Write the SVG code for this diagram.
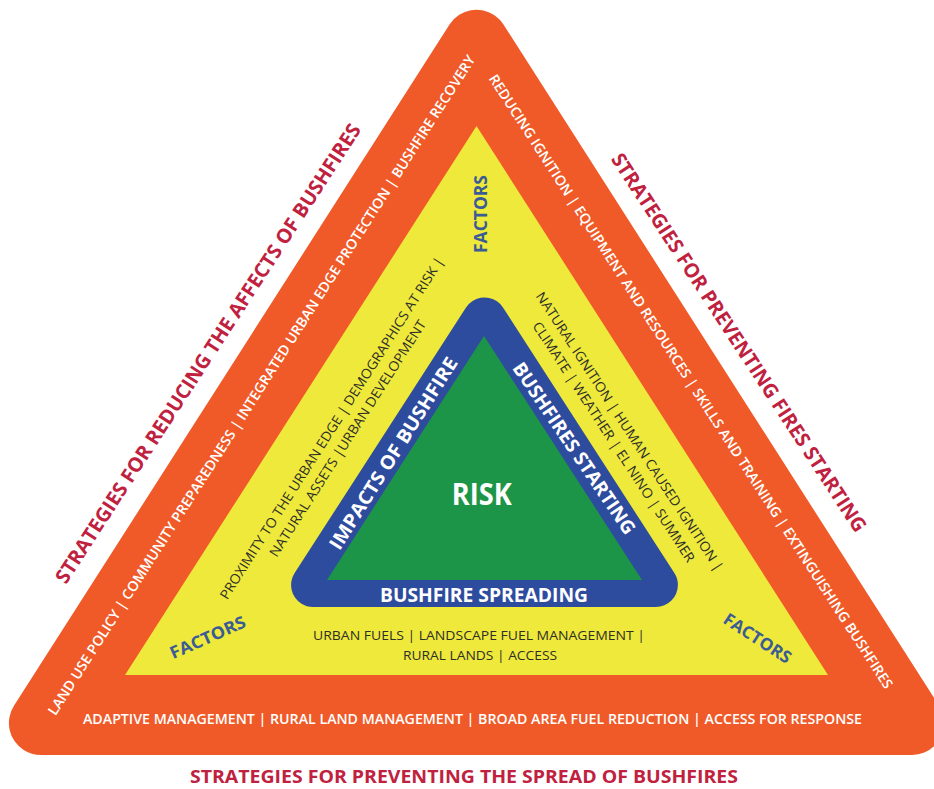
<svg xmlns="http://www.w3.org/2000/svg" width="934" height="789" viewBox="0 0 934 789">
<style>
  text { font-family: "Open Sans", "Liberation Sans", sans-serif; }
  .band { fill: #ffffff; font-size: 14px; font-weight: 600; }
  .title { fill: #C0213F; font-size: 20px; font-weight: 700; }
  .factors { fill: #3B5B94; font-size: 17px; font-weight: 700; }
  .yt { fill: #2f2f2a; font-size: 13.5px; font-weight: 400; }
  .bt { fill: #ffffff; font-size: 19px; font-weight: 700; }
  .risk { fill: #ffffff; font-size: 31px; font-weight: 700; }
</style>
<rect width="934" height="789" fill="#ffffff"/>

<g id="outer-strategies">
  <polygon points="476.5,41.7 40.9,723 912.1,723" fill="#F05A28" stroke="#F05A28" stroke-width="64" stroke-linejoin="round"/>
  <text class="band" transform="translate(55.6,716.3) rotate(-57.4)" textLength="780" lengthAdjust="spacingAndGlyphs">LAND USE POLICY | COMMUNITY PREPAREDNESS | INTEGRATED URBAN EDGE PROTECTION | BUSHFIRE RECOVERY</text>
  <text class="band" transform="translate(488.3,78.5) rotate(57)" textLength="729" lengthAdjust="spacingAndGlyphs">REDUCING IGNITION | EQUIPMENT AND RESOURCES | SKILLS AND TRAINING | EXTINGUISHING BUSHFIRES</text>
  <text class="band" x="83" y="724" style="font-size:15px" textLength="779" lengthAdjust="spacingAndGlyphs">ADAPTIVE MANAGEMENT | RURAL LAND MANAGEMENT | BROAD AREA FUEL REDUCTION | ACCESS FOR RESPONSE</text>
</g>

<g id="titles">
  <text class="title" transform="translate(66,585) rotate(-57)" textLength="543" lengthAdjust="spacingAndGlyphs">STRATEGIES FOR REDUCING THE AFFECTS OF BUSHFIRES</text>
  <text class="title" transform="translate(610.4,158.9) rotate(56.8)" textLength="448" lengthAdjust="spacingAndGlyphs">STRATEGIES FOR PREVENTING FIRES STARTING</text>
  <text class="title" x="190" y="783" style="font-size:18.5px" textLength="548" lengthAdjust="spacingAndGlyphs">STRATEGIES FOR PREVENTING THE SPREAD OF BUSHFIRES</text>
</g>

<g id="factors">
  <polygon points="476.5,126 125,675 828,675" fill="#EEE93A"/>
  <text class="factors" transform="translate(487,214) rotate(-90)" x="-39" textLength="78" lengthAdjust="spacingAndGlyphs" style="font-size:18px">FACTORS</text>
  <text class="factors" transform="translate(210.1,642.9) rotate(-24)" x="-40.5" textLength="81" lengthAdjust="spacingAndGlyphs">FACTORS</text>
  <text class="factors" transform="translate(754.2,643.3) rotate(33)" x="-38.5" textLength="77" lengthAdjust="spacingAndGlyphs">FACTORS</text>
  <g transform="translate(335.7,430.7) rotate(-57.4)">
    <text class="yt" x="-201.5" y="0" textLength="403" lengthAdjust="spacingAndGlyphs">PROXIMITY TO THE URBAN EDGE | DEMOGRAPHICS AT RISK |</text>
    <text class="yt" x="-139" y="19" textLength="278" lengthAdjust="spacingAndGlyphs">NATURAL ASSETS |URBAN DEVELOPMENT</text>
  </g>
  <g transform="translate(625.7,434.1) rotate(56.8)">
    <text class="yt" x="-165" y="0" textLength="330" lengthAdjust="spacingAndGlyphs">NATURAL IGNITION | HUMAN CAUSED IGNITION |</text>
    <text class="yt" x="-142" y="19" textLength="284" lengthAdjust="spacingAndGlyphs">CLIMATE | WEATHER | EL NINO | SUMMER</text>
  </g>
  <text class="yt" x="313" y="640" textLength="332" lengthAdjust="spacingAndGlyphs">URBAN FUELS | LANDSCAPE FUEL MANAGEMENT |</text>
  <text class="yt" x="403" y="660" textLength="154" lengthAdjust="spacingAndGlyphs">RURAL LANDS | ACCESS</text>
</g>

<g id="risk-core">
  <polygon points="484.5,319.4 313.1,585 655.9,585" fill="#2E4C9D" stroke="#2E4C9D" stroke-width="44" stroke-linejoin="round"/>
  <polygon points="484,336 327,580 642,580" fill="#1D9548"/>
  <text class="bt" transform="translate(399,456.9) rotate(-57.8)" x="-111.5" textLength="223" lengthAdjust="spacingAndGlyphs">IMPACTS OF BUSHFIRE</text>
  <text class="bt" transform="translate(568.6,452) rotate(55.9)" x="-101.5" textLength="203" lengthAdjust="spacingAndGlyphs">BUSHFIRES STARTING</text>
  <text class="bt" x="380" y="601.5" textLength="208" lengthAdjust="spacingAndGlyphs">BUSHFIRE SPREADING</text>
  <text class="risk" x="451.7" y="505" textLength="60" lengthAdjust="spacingAndGlyphs">RISK</text>
</g>
</svg>
